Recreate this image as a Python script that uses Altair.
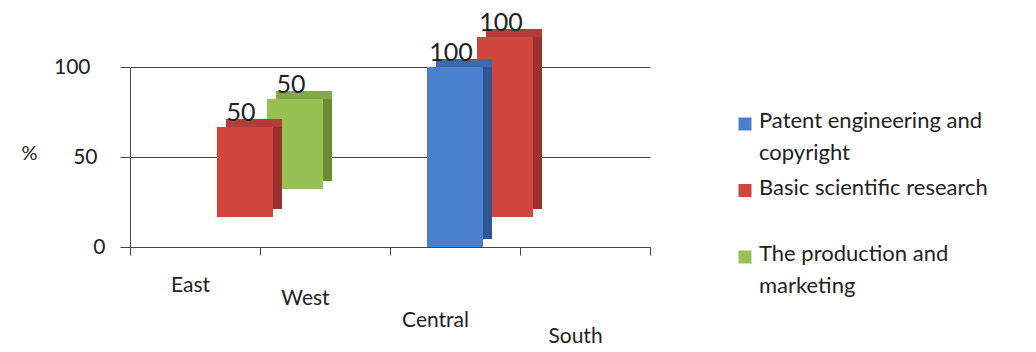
import altair as alt
import pandas as pd

# Categories, series and values
regions = ["East", "West", "Central", "South"]
series = [
    "Patent engineering and copyright",
    "Basic scientific research",
    "The production and marketing",
]
legend_lines = [
    "Patent engineering and\ncopyright",
    "Basic scientific research",
    "The production and\nmarketing",
]
bar_region = ["East", "East", "Central", "Central"]
bar_series = [series[1], series[2], series[0], series[1]]
bar_value = [50, 50, 100, 100]
y_ticks = [0, 50, 100]

# Face colours for each series: front, top, side
front_colors = ["#4A7FCB", "#D0463F", "#98C155"]
top_colors = ["#3C69AC", "#B53B38", "#82A946"]
side_colors = ["#2F5690", "#9C302E", "#6A8C35"]

# Pseudo-3D: each series sits on its own depth row (pixel shift right / up)
depth_dx = [0, 50, 100]
depth_dy = [0, -30, -58]
EX, EY = 9, -8          # extrusion of the box faces
BAR_W = 56

FONT = "Lato"
INK = "#222222"
LINE = "#454545"

bars = pd.DataFrame({"region": bar_region, "series": bar_series, "value": bar_value})
legend_df = pd.DataFrame({"series": series, "label": legend_lines})


def cond(field_values, numbers, default):
    return {
        "condition": [
            {"test": f"datum.value === {v!r}", "value": n}
            for v, n in zip(field_values, numbers)
        ],
        "value": default,
    }


x_enc = alt.X(
    "region:N",
    scale=alt.Scale(domain=regions, paddingInner=0, paddingOuter=0),
    axis=alt.Axis(
        title=None,
        labelAngle=0,
        labelFont=FONT,
        labelFontSize=21,
        labelColor=INK,
        domainColor=LINE,
        tickColor=LINE,
        tickSize=8,
        tickBand="extent",
        grid=False,
        labelPadding=cond(["East", "West", "Central"], [19, 32, 54], 70),
        labelOffset=cond(["East", "West", "Central"], [-5, -20, -20], -10),
    ),
)

y_scale = alt.Scale(domain=[0, 100])
y_enc = alt.Y(
    "value:Q",
    scale=y_scale,
    axis=alt.Axis(
        values=y_ticks,
        title="%",
        titleAngle=0,
        titleX=-101,
        titleY=86,
        titleAlign="center",
        titleBaseline="middle",
        titleFont=FONT,
        titleFontSize=20,
        titleFontWeight="normal",
        titleColor=INK,
        labelFont=FONT,
        labelFontSize=21,
        labelColor=INK,
        labelPadding=cond([100, 50], [30, 23], 15),
        grid=True,
        gridColor=LINE,
        gridWidth=1,
        domainColor=LINE,
        tickColor=LINE,
        tickSize=10,
    ),
)

layers = []
# draw the back row first so nearer boxes cover it
for i in [2, 1, 0]:
    dx, dy = depth_dx[i], depth_dy[i]
    base = alt.Chart(bars).transform_filter(alt.datum.series == series[i])
    side = base.mark_bar(
        width=BAR_W, color=side_colors[i],
        xOffset=dx + EX, x2Offset=dx + EX, yOffset=dy + EY, y2Offset=dy + EY,
    ).encode(x=x_enc, y=y_enc, y2=alt.datum(0))
    top = base.mark_bar(
        width=BAR_W, color=top_colors[i],
        xOffset=dx + EX, x2Offset=dx + EX, yOffset=dy + EY, y2Offset=dy,
    ).encode(x=x_enc, y=y_enc, y2=alt.Y2("value:Q"))
    front = base.mark_bar(
        width=BAR_W, color=front_colors[i],
        xOffset=dx, x2Offset=dx, yOffset=dy, y2Offset=dy,
    ).encode(x=x_enc, y=y_enc, y2=alt.datum(0))
    label = base.mark_text(
        font=FONT, fontSize=25, color=INK, baseline="middle",
        dy=-14, xOffset=dx - 4, yOffset=dy,
    ).encode(x=x_enc, y=y_enc, text=alt.Text("value:Q"))
    layers += [side, top, front, label]

main = alt.layer(*layers).properties(width=520, height=180)

leg_y = alt.Y(
    "series:N",
    scale=alt.Scale(type="point", domain=series, range=[57, 190], padding=0),
    axis=None,
)
swatch = alt.Chart(legend_df).mark_square(size=169, opacity=1).encode(
    x=alt.value(6),
    y=leg_y,
    color=alt.Color("series:N", scale=alt.Scale(domain=series, range=front_colors), legend=None),
)
legend_text = alt.Chart(legend_df).mark_text(
    align="left", baseline="top", dy=-13, lineBreak="\n", lineHeight=32,
    font=FONT, fontSize=22, color=INK,
).encode(x=alt.value(20), y=leg_y, text="label:N")
legend = alt.layer(swatch, legend_text).properties(width=270, height=180)

chart = (
    alt.hconcat(main, legend, spacing=87)
    .properties(padding={"left": 20, "top": 11, "right": 0, "bottom": 0}, background="white")
    .configure_view(stroke=None)
)

chart.save("out.html", embed_options={"renderer": "svg", "actions": False})
